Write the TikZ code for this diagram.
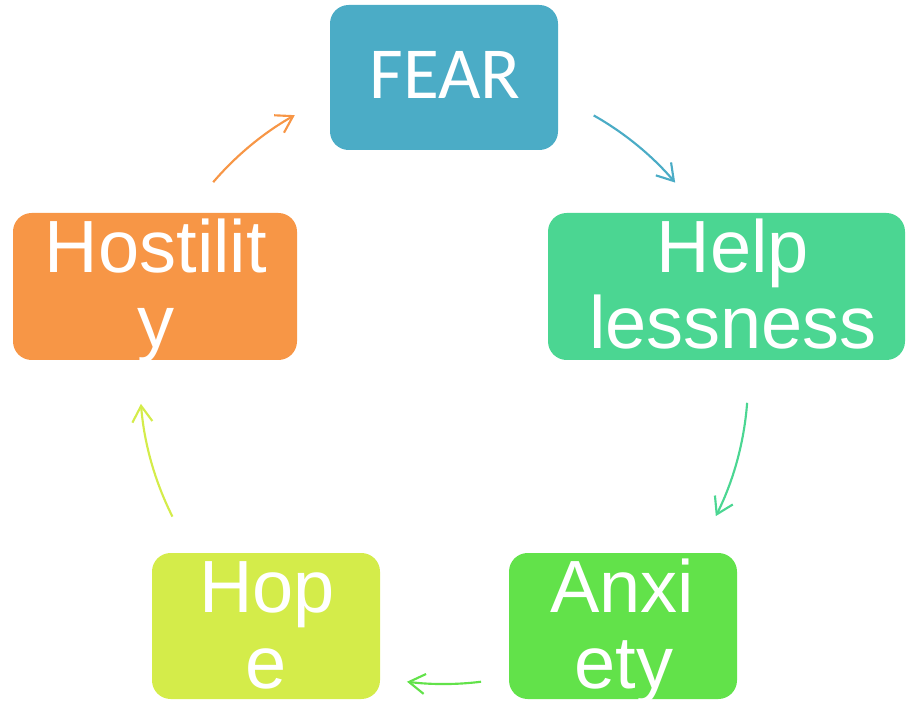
\documentclass[tikz,border=0pt]{standalone}
\usepackage{fontspec}
\setmainfont{Liberation Sans}
\newfontfamily\calib{Carlito}
\usetikzlibrary{arrows.meta}
\definecolor{cfear}{HTML}{4BACC6}
\definecolor{chelp}{HTML}{4BD692}
\definecolor{canx}{HTML}{62E24A}
\definecolor{chope}{HTML}{D4EC4A}
\definecolor{chost}{HTML}{F79646}
\tikzset{
  box/.style={draw=none, rounded corners=14pt, inner sep=0pt},
  lbl/.style={text=white, anchor=base, inner sep=0pt, font=\fontsize{55.5}{60}\selectfont},
  arr/.style={line width=1.6pt, -{Straight Barb[length=12pt,width=15pt,line width=1.6pt]}},
}
\begin{document}
\begin{tikzpicture}[x=0.75pt,y=0.75pt]
\useasboundingbox (0,0) rectangle (906,700);
% boxes
\node[box, fill=cfear, minimum width=171pt, minimum height=108.75pt] (fear) at (444,622.5) {};
\node[box, fill=chelp, minimum width=267.75pt, minimum height=110.25pt] (help) at (726.5,413.5) {};
\node[box, fill=canx, minimum width=171pt, minimum height=109.5pt] (anx) at (623,74) {};
\node[box, fill=chope, minimum width=171pt, minimum height=109.5pt] (hope) at (266,74) {};
\node[box, fill=chost, minimum width=213pt, minimum height=110.25pt] (host) at (155,413.5) {};
% labels
\node[lbl, font=\calib\fontsize{55}{60}\selectfont] (tfear) at (445,601) {FEAR};
\node[lbl] (thelpa) at (733,427) {Help};
\node[lbl] (thelpb) at (733,351) {lessness};
\node[lbl] (thosta) at (156,427) {Hostilit};
\node[lbl] (thostb) at (156,352) {y};
\node[lbl] (tanxa) at (622,87.5) {Anxi};
\node[lbl] (tanxb) at (624,12) {ety};
\node[lbl] (thopea) at (267,87.5) {Hop};
\node[lbl] (thopeb) at (266.5,12) {e};
% cycle arrows on a circle
\coordinate (cc) at (444,320);
\draw[arr, cfear] ([shift={(60.5:228pt)}]cc) arc[start angle=60.5, end angle=40.5, radius=228pt];
\draw[arr, chelp] ([shift={(-4.3:228pt)}]cc) arc[start angle=-4.3, end angle=-26.6, radius=228pt];
\draw[arr, canx] ([shift={(-83:228pt)}]cc) arc[start angle=-83, end angle=-97, radius=228pt];
\draw[arr, chope] ([shift={(206.7:228pt)}]cc) arc[start angle=206.7, end angle=184.5, radius=228pt];
\draw[arr, chost] ([shift={(139.4:228pt)}]cc) arc[start angle=139.4, end angle=119.4, radius=228pt];
\end{tikzpicture}
\end{document}
